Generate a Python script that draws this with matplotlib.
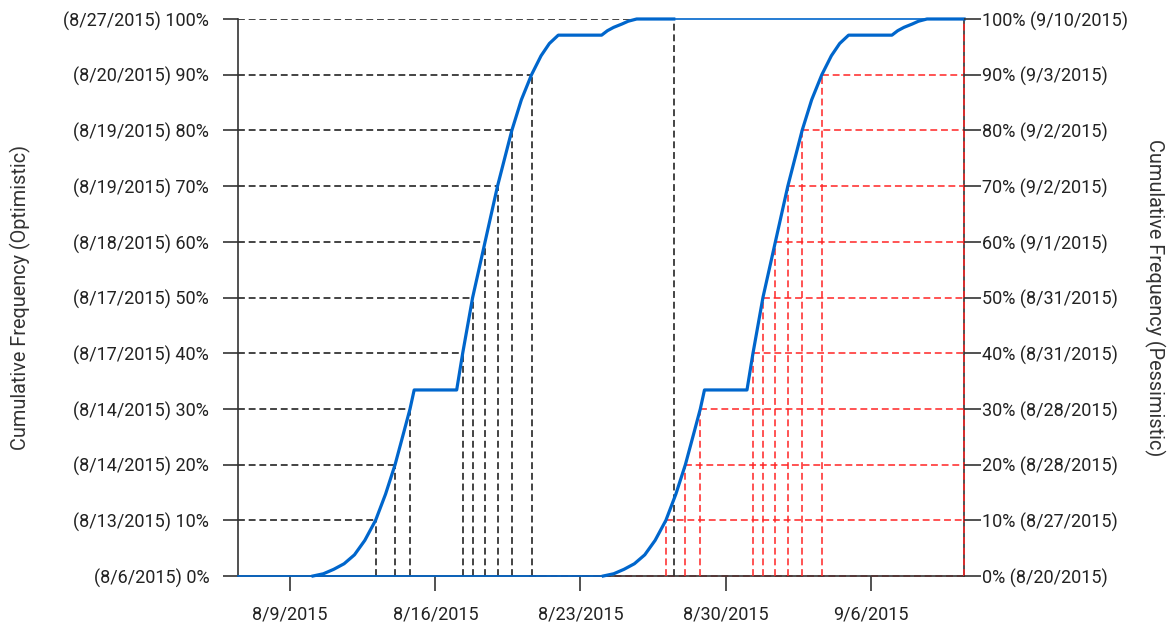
import numpy as np
import matplotlib
matplotlib.use("Agg")
import matplotlib.pyplot as plt
import matplotlib.dates as mdates
from matplotlib.ticker import FuncFormatter
from datetime import datetime

plt.rcParams['font.family'] = ['Roboto', 'DejaVu Sans']

# day offsets are counted from 2015-08-06 00:00
start = mdates.date2num(datetime(2015, 8, 6))
x_first = 0.5
x_last = 35.5

levels = [0.0, 0.1, 0.2, 0.3, 0.4, 0.5, 0.6, 0.7, 0.8, 0.9, 1.0]
pct_labels = ['0%', '10%', '20%', '30%', '40%', '50%', '60%', '70%', '80%', '90%', '100%']

# optimistic cumulative curve
opt_days = [4.1, 4.6, 5.1, 5.6, 6.1, 6.6, 7.12, 7.6, 8.06, 8.45, 8.78, 8.98,
            11.03, 11.32, 11.8, 12.4, 13.0, 13.69, 14.15, 14.64, 15.1, 15.5, 15.93,
            18.02, 18.3, 18.6, 19.0, 19.3, 19.71, 21.5]
opt_vals = [0, 0.004, 0.012, 0.022, 0.038, 0.064, 0.1, 0.147, 0.2, 0.254, 0.3, 0.334,
            0.334, 0.4, 0.5, 0.6, 0.7, 0.8, 0.855, 0.9, 0.934, 0.956, 0.971,
            0.971, 0.979, 0.985, 0.991, 0.996, 1.0, 1.0]

# pessimistic cumulative curve
pes_days = [18.1, 18.6, 19.1, 19.6, 20.1, 20.6, 21.12, 21.6, 22.06, 22.45, 22.78, 22.98,
            25.03, 25.32, 25.8, 26.4, 27.0, 27.69, 28.15, 28.64, 29.1, 29.5, 29.93,
            32.02, 32.3, 32.6, 33.0, 33.3, 33.71, 35.5]
pes_vals = [0, 0.004, 0.012, 0.022, 0.038, 0.064, 0.1, 0.147, 0.2, 0.254, 0.3, 0.334,
            0.334, 0.4, 0.5, 0.6, 0.7, 0.8, 0.855, 0.9, 0.934, 0.956, 0.971,
            0.971, 0.979, 0.985, 0.991, 0.996, 1.0, 1.0]

# where each curve reaches each level
opt_q = [0.5, 7.12, 8.06, 8.78, 11.32, 11.8, 12.4, 13.0, 13.69, 14.64, 21.5]
pes_q = [14.5, 21.12, 22.06, 22.78, 25.32, 25.8, 26.4, 27.0, 27.69, 28.64, 35.5]

opt_dates = ['8/6/2015', '8/13/2015', '8/14/2015', '8/14/2015', '8/17/2015', '8/17/2015',
             '8/18/2015', '8/19/2015', '8/19/2015', '8/20/2015', '8/27/2015']
pes_dates = ['8/20/2015', '8/27/2015', '8/28/2015', '8/28/2015', '8/31/2015', '8/31/2015',
             '9/1/2015', '9/2/2015', '9/2/2015', '9/3/2015', '9/10/2015']

blue = '#0066cc'
red = '#ff2424'
txt = '#222222'
dash = (0, (4.5, 2.5))

fig = plt.figure(figsize=(11.7, 6.25), dpi=100)
ax = fig.add_axes([0.2037, 0.0784, 0.6203, 0.8912])
xmin = start + x_first
xmax = start + x_last

# guide lines
for lv, qo, qp in zip(levels, opt_q, pes_q):
    ax.plot([xmin, start + qo], [lv, lv], color='#111111', lw=1.1, linestyle=dash, zorder=2)
    ax.plot([start + qo, start + qo], [0, lv], color='#111111', lw=1.1, linestyle=dash, zorder=2)
    ax.plot([start + qp, xmax], [lv, lv], color=red, lw=1.1, linestyle=dash, zorder=2, clip_on=False)
    ax.plot([start + qp, start + qp], [0, lv], color=red, lw=1.1, linestyle=dash, zorder=3, clip_on=False)

# thin extensions
ax.plot([xmin, start + pes_days[0]], [0, 0], color=blue, lw=1.2, zorder=4, clip_on=False)
ax.plot([start + opt_days[-1], xmax], [1, 1], color=blue, lw=1.2, zorder=4, clip_on=False)

ax.plot(start + np.array(opt_days), opt_vals, color=blue, lw=2.3, zorder=5, clip_on=False)
ax.plot(start + np.array(pes_days), pes_vals, color=blue, lw=2.3, zorder=5, clip_on=False)

ax.set_xlim(xmin, xmax)
ax.set_ylim(0, 1)

for s in ['left', 'bottom', 'right']:
    ax.spines[s].set_color('#333333')
    ax.spines[s].set_linewidth(1.2)
ax.spines['top'].set_visible(False)

ax.xaxis.set_major_locator(mdates.WeekdayLocator(byweekday=mdates.SU))
ax.xaxis.set_major_formatter(FuncFormatter(
    lambda v, p: '{d.month}/{d.day}/{d.year}'.format(d=mdates.num2date(v))))

ax.set_yticks(levels)
ax.set_yticklabels(['(%s) %s' % (d, p) for d, p in zip(opt_dates, pct_labels)])
ax.tick_params(axis='both', length=11, width=1.2, color='#333333', labelsize=13, labelcolor=txt)
ax.tick_params(axis='x', pad=10)
ax.tick_params(axis='y', pad=10)

ax2 = ax.twinx()
ax2.set_ylim(0, 1)
ax2.set_yticks(levels)
ax2.set_yticklabels(['%s (%s)' % (p, d) for d, p in zip(pes_dates, pct_labels)])
ax2.tick_params(axis='y', length=12, width=1.2, color='#333333', labelsize=13, labelcolor=txt, pad=1)
for s in ['left', 'bottom', 'top', 'right']:
    ax2.spines[s].set_visible(False)

fig.text(20 / 1170, 0.524, 'Cumulative Frequency (Optimistic)', rotation=90,
         ha='center', va='center', fontsize=14.3, color='#333333')
fig.text(1155 / 1170, 0.524, 'Cumulative Frequency (Pessimistic)', rotation=-90,
         ha='center', va='center', fontsize=14.3, color='#333333')

fig.savefig('out.png', dpi=100)
